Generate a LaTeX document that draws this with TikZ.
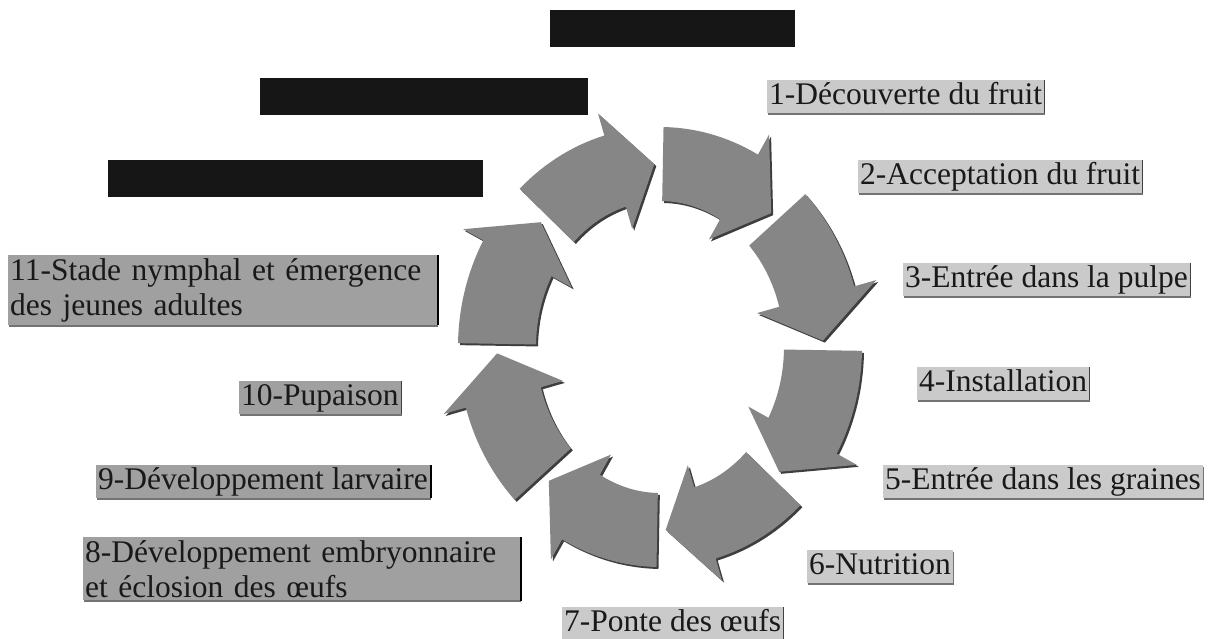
\documentclass[tikz,border=0pt]{standalone}
\usepackage{fontspec}
\setmainfont{Liberation Serif}
\usetikzlibrary{shadows}
\definecolor{arrowgray}{RGB}{134,134,134}
\definecolor{arrowshade}{RGB}{62,62,62}
\definecolor{labellight}{RGB}{202,202,202}
\definecolor{labeldark}{RGB}{160,160,160}
\definecolor{redact}{RGB}{22,22,22}
\definecolor{inktext}{RGB}{25,25,25}
\newcommand\arrowpath{%
 plot[domain=\t:\tb, samples=16] ({660+202*cos(\x)},{291+220*sin(\x)})
 -- ({660+225*cos(\tb)},{291+243*sin(\tb)})
 -- ({660+163*cos(\tc)},{291+183*sin(\tc)})
 -- ({660+101*cos(\tb)},{291+123*sin(\tb)})
 -- plot[domain=\tb:\t, samples=16] ({660+124*cos(\x)},{291+146*sin(\x)})
 -- cycle}
\begin{document}
\begin{tikzpicture}[x=1pt,y=1pt,
  labbase/.style={anchor=north west, inner xsep=2pt, text=inktext,
    font=\fontsize{31.5}{35}\selectfont,
    drop shadow={shadow xshift=1.2pt, shadow yshift=-2pt, fill=black!55, opacity=1}},
  lab1/.style={labbase, inner ysep=1.5pt, text height=23pt, text depth=7pt},
  lab2/.style={labbase, inner ysep=3pt, align=left},
  lightlab/.style={fill=labellight},
  darklab/.style={fill=labeldark},
  redactbox/.style={fill=redact, anchor=north west, inner sep=0pt, minimum height=37pt},
  bar/.style={line width=2pt, black},
  thinbar/.style={line width=0.8pt, black!75}]
\useasboundingbox[fill=white] (0,0) rectangle (1213,638);

% redaction blocks
\node[redactbox, minimum width=245pt] (r1) at (550,628) {};
\node[redactbox, minimum width=328pt] (r2) at (260,560) {};
\node[redactbox, minimum width=375pt] (r3) at (108,478) {};

% cycle of arrows
\foreach \t in {134,89,44,-1,-46,-91,-136,179}{
  \pgfmathsetmacro\tb{\t-28}
  \pgfmathsetmacro\tc{\t-42}
  \fill[arrowshade, shift={(2,-2)}] \arrowpath;
  \fill[arrowgray] \arrowpath;
}

% right labels
\node[lab1, lightlab] (l1) at (767,558) {1-Découverte du fruit};
\node[lab1, lightlab] (l2) at (858,478) {2-Acceptation du fruit};
\node[lab1, lightlab] (l3) at (903,375) {3-Entrée dans la pulpe};
\node[lab1, lightlab] (l4) at (917,271) {4-Installation};
\node[lab1, lightlab] (l5) at (883,173) {5-Entrée dans les graines};
\node[lab1, lightlab] (l6) at (807,88) {6-Nutrition};
\node[lab1, lightlab] (l7) at (562,31) {7-Ponte des œufs};

% left labels
\node[lab2, darklab, text width=433pt] (l8) at (83,101) {8-Développement embryonnaire\\et éclosion des œufs};
\node[lab1, darklab] (l9) at (96,173) {9-Développement larvaire};
\node[lab1, darklab] (l10) at (239,257) {10-Pupaison};
\node[lab2, darklab, text width=425pt] (l11) at (8,383) {11-Stade nymphal et émergence\\des jeunes adultes};

% right-edge marks
\foreach \n in {l8,l9,l11}{
  \draw[bar] ([xshift=1pt]\n.north east) -- ([xshift=1pt]\n.south east);
}
\foreach \n in {l1,l2,l3,l4,l7,l10}{
  \draw[thinbar] (\n.north east) -- (\n.south east);
}
\end{tikzpicture}
\end{document}
